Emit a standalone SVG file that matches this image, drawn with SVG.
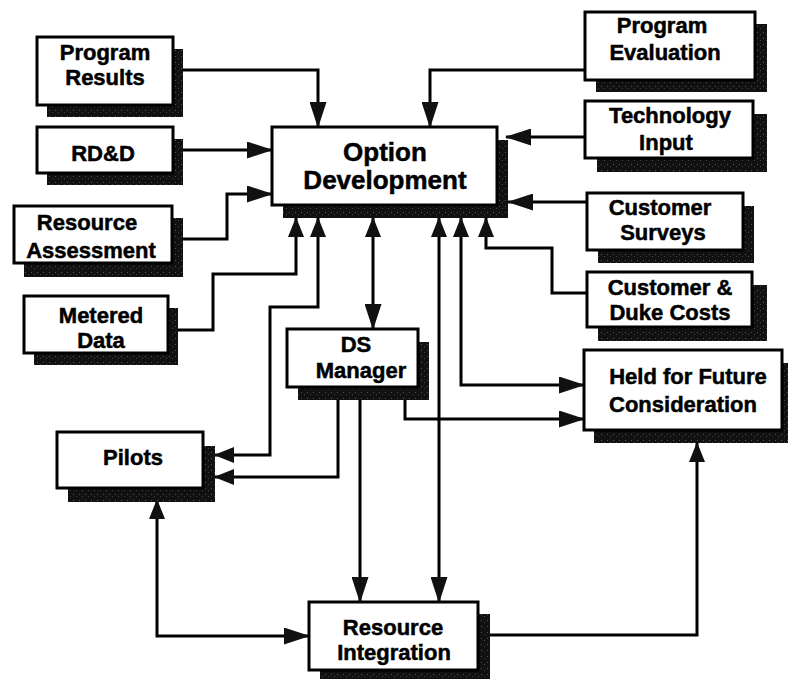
<svg xmlns="http://www.w3.org/2000/svg" width="788" height="679" viewBox="0 0 788 679">
  <defs>
    <!-- speckled drop shadow fill -->
    <pattern id="speck" width="6" height="6" patternUnits="userSpaceOnUse">
      <rect width="6" height="6" fill="#111"/>
      <rect x="1" y="2" width="1" height="1" fill="#555"/>
      <rect x="4" y="4" width="1" height="1" fill="#444"/>
    </pattern>
    <!-- long and short filled arrowheads -->
    <marker id="arrow" viewBox="0 0 26 17" markerWidth="26" markerHeight="17" refX="25" refY="8.5" orient="auto-start-reverse" markerUnits="userSpaceOnUse">
      <path d="M0,0 L26,8.5 L0,17 z" fill="#111"/>
    </marker>
    <marker id="arrow-s" viewBox="0 0 20 16" markerWidth="20" markerHeight="16" refX="19" refY="8" orient="auto-start-reverse" markerUnits="userSpaceOnUse">
      <path d="M0,0 L20,8 L0,16 z" fill="#111"/>
    </marker>
    <style>
      .box { fill: #fff; stroke: #000; stroke-width: 3; }
      .shadow { fill: url(#speck); }
      .label { font-family: "Liberation Sans", Arial, sans-serif; font-weight: bold; font-size: 22px; fill: #000; stroke: #000; stroke-width: 0.5; text-anchor: middle; }
      .big { font-size: 26px; }
      .conn { fill: none; stroke: #000; stroke-width: 3; }
      .one { marker-end: url(#arrow); }
      .one-s { marker-end: url(#arrow-s); }
      .two { marker-start: url(#arrow-s); marker-end: url(#arrow); }
      .two-s { marker-start: url(#arrow-s); marker-end: url(#arrow-s); }
    </style>
  </defs>

  <!-- connectors -->
  <g id="connectors">
    <path class="conn one" d="M173,70 H318 V127"/>
    <path class="conn one" d="M183,150 H272"/>
    <path class="conn one" d="M183,239 H227 V194 H272"/>
    <path class="conn one-s" d="M178,330 H213 V274 H296 V218"/>
    <path class="conn two-s" d="M318,218 V307 H270 V455 H215"/>
    <path class="conn two" d="M373,218 V329"/>
    <path class="conn one-s" d="M338,400 V477 H215"/>
    <path class="conn one" d="M360,400 V602"/>
    <path class="conn two" d="M439,218 V602"/>
    <path class="conn two" d="M461,218 V385 H584"/>
    <path class="conn one" d="M405,400 V419 H584"/>
    <path class="conn one-s" d="M587,293 H552 V248 H486 V218"/>
    <path class="conn one" d="M587,202 H508"/>
    <path class="conn one" d="M585,137 H506"/>
    <path class="conn one" d="M585,70 H430 V127"/>
    <path class="conn two" d="M157,500 V636 H309"/>
    <path class="conn one-s" d="M490,635 H697 V443"/>
  </g>

  <g id="program-results">
    <rect class="shadow" x="47" y="49" width="136" height="68"/>
    <rect class="box" x="37" y="37" width="136" height="68"/>
    <text class="label" x="105" y="60">Program</text>
    <text class="label" x="105" y="85">Results</text>
  </g>

  <g id="rdd">
    <rect class="shadow" x="47" y="139" width="136" height="46"/>
    <rect class="box" x="37" y="127" width="136" height="46"/>
    <text class="label" x="103" y="161">RD&amp;D</text>
  </g>

  <g id="resource-assessment">
    <rect class="shadow" x="24" y="218" width="159" height="59"/>
    <rect class="box" x="14" y="206" width="158" height="57"/>
    <text class="label" x="87" y="230">Resource</text>
    <text class="label" x="91" y="258">Assessment</text>
  </g>

  <g id="metered-data">
    <rect class="shadow" x="34" y="308" width="144" height="57"/>
    <rect class="box" x="24" y="296" width="144" height="57"/>
    <text class="label" x="101" y="323">Metered</text>
    <text class="label" x="101" y="348">Data</text>
  </g>

  <g id="option-development">
    <rect class="shadow" x="283" y="140" width="225" height="78"/>
    <rect class="box" x="272" y="127" width="225" height="78"/>
    <text class="label big" x="385" y="161">Option</text>
    <text class="label big" x="385" y="189">Development</text>
  </g>

  <g id="program-evaluation">
    <rect class="shadow" x="596" y="24" width="171" height="68"/>
    <rect class="box" x="585" y="12" width="170" height="68"/>
    <text class="label" x="662" y="33">Program</text>
    <text class="label" x="665" y="60">Evaluation</text>
  </g>

  <g id="technology-input">
    <rect class="shadow" x="597" y="114" width="170" height="58"/>
    <rect class="box" x="585" y="101" width="168" height="57"/>
    <text class="label" x="670" y="123">Technology</text>
    <text class="label" x="666" y="150">Input</text>
  </g>

  <g id="customer-surveys">
    <rect class="shadow" x="598" y="206" width="156" height="57"/>
    <rect class="box" x="587" y="193" width="156" height="57"/>
    <text class="label" x="660" y="215">Customer</text>
    <text class="label" x="663" y="240">Surveys</text>
  </g>

  <g id="customer-duke-costs">
    <rect class="shadow" x="598" y="285" width="169" height="56"/>
    <rect class="box" x="587" y="272" width="165" height="55"/>
    <text class="label" x="670" y="295">Customer &amp;</text>
    <text class="label" x="670" y="320">Duke Costs</text>
  </g>

  <g id="held-for-future">
    <rect class="shadow" x="594" y="363" width="198" height="80"/>
    <rect class="box" x="584" y="350" width="198" height="80"/>
    <text class="label" x="688" y="384">Held for Future</text>
    <text class="label" x="683" y="412">Consideration</text>
  </g>

  <g id="ds-manager">
    <rect class="shadow" x="298" y="342" width="131" height="58"/>
    <rect class="box" x="287" y="329" width="131" height="58"/>
    <text class="label" x="356" y="352">DS</text>
    <text class="label" x="361" y="378">Manager</text>
  </g>

  <g id="pilots">
    <rect class="shadow" x="68" y="446" width="147" height="56"/>
    <rect class="box" x="57" y="432" width="146" height="56"/>
    <text class="label" x="133" y="465">Pilots</text>
  </g>

  <g id="resource-integration">
    <rect class="shadow" x="320" y="614" width="170" height="68"/>
    <rect class="box" x="309" y="602" width="169" height="68"/>
    <text class="label" x="393" y="635">Resource</text>
    <text class="label" x="394" y="660">Integration</text>
  </g>
</svg>
